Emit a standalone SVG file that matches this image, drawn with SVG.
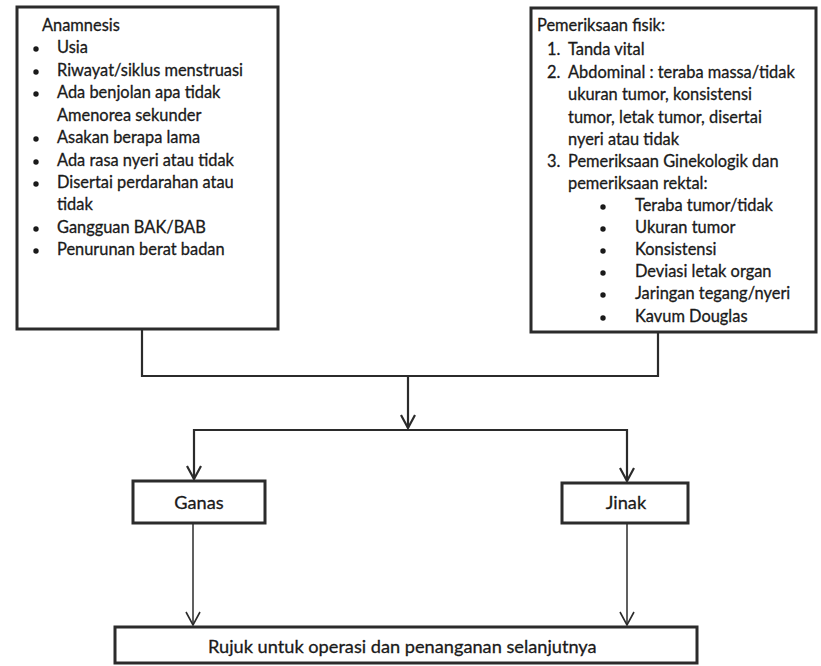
<svg xmlns="http://www.w3.org/2000/svg" width="821" height="666" viewBox="0 0 821 666">
  <style>
    .box { fill: #ffffff; stroke: #2b2b2b; stroke-width: 3; }
    .t { font-family: Lato, "Open Sans", sans-serif; font-size: 16.4px; fill: #1a1a1a; stroke: #1a1a1a; stroke-width: 0.3; }
    .big { font-size: 18.2px; }
    .c { text-anchor: middle; }
    .link { fill: none; stroke: #2b2b2b; stroke-width: 2.2; }
    .thin { fill: none; stroke: #2b2b2b; stroke-width: 1.5; }
    .dot { fill: #1a1a1a; }
  </style>
  <defs>
    <marker id="vee" viewBox="0 0 16 16" refX="15" refY="8" markerWidth="16" markerHeight="16" markerUnits="userSpaceOnUse" orient="auto-start-reverse">
      <path d="M2 1 L15 8 L2 15" fill="none" stroke="#2b2b2b" stroke-width="2.2"/>
    </marker>
    <marker id="vee-thin" viewBox="0 0 16 16" refX="15" refY="8" markerWidth="16" markerHeight="16" markerUnits="userSpaceOnUse" orient="auto">
      <path d="M2 1 L15 8 L2 15" fill="none" stroke="#2b2b2b" stroke-width="1.6"/>
    </marker>
  </defs>
  <rect width="821" height="666" fill="#ffffff"/>

  <!-- connectors -->
  <g id="connectors">
    <path class="link" d="M142 329 V376 H658 V332"/>
    <path class="link" d="M408 376 V428" marker-end="url(#vee)"/>
    <path class="link" d="M194 479 V430 H627 V481" marker-start="url(#vee)" marker-end="url(#vee)"/>
    <path class="thin" d="M193 523 V625" marker-end="url(#vee-thin)"/>
    <path class="thin" d="M627 523 V625" marker-end="url(#vee-thin)"/>
  </g>

  <!-- anamnesis -->
  <g id="anamnesis">
    <rect class="box" x="17" y="7" width="261" height="322"/>
    <text class="t" x="42" y="31">Anamnesis</text>
    <g class="dot">
      <circle cx="36" cy="49" r="2.7"/>
      <circle cx="36" cy="72" r="2.7"/>
      <circle cx="36" cy="94" r="2.7"/>
      <circle cx="36" cy="139" r="2.7"/>
      <circle cx="36" cy="162" r="2.7"/>
      <circle cx="36" cy="184" r="2.7"/>
      <circle cx="36" cy="229" r="2.7"/>
      <circle cx="36" cy="251" r="2.7"/>
    </g>
    <text class="t" x="57" y="53">Usia</text>
    <text class="t" x="57" y="76">Riwayat/siklus menstruasi</text>
    <text class="t" x="57" y="98">Ada benjolan apa tidak</text>
    <text class="t" x="57" y="121">Amenorea sekunder</text>
    <text class="t" x="57" y="143">Asakan berapa lama</text>
    <text class="t" x="57" y="166">Ada rasa nyeri atau tidak</text>
    <text class="t" x="57" y="188">Disertai perdarahan atau</text>
    <text class="t" x="57" y="210">tidak</text>
    <text class="t" x="57" y="233">Gangguan BAK/BAB</text>
    <text class="t" x="57" y="255">Penurunan berat badan</text>
  </g>

  <!-- physical examination -->
  <g id="pemeriksaan-fisik">
    <rect class="box" x="531" y="8" width="285" height="324"/>
    <text class="t" x="537" y="31">Pemeriksaan fisik:</text>
    <text class="t" x="547" y="55">1.</text>
    <text class="t" x="568" y="55">Tanda vital</text>
    <text class="t" x="547" y="78">2.</text>
    <text class="t" x="568" y="78">Abdominal : teraba massa/tidak</text>
    <text class="t" x="568" y="100">ukuran tumor, konsistensi</text>
    <text class="t" x="568" y="123">tumor, letak tumor, disertai</text>
    <text class="t" x="568" y="145">nyeri atau tidak</text>
    <text class="t" x="547" y="167">3.</text>
    <text class="t" x="568" y="167">Pemeriksaan Ginekologik dan</text>
    <text class="t" x="568" y="189">pemeriksaan rektal:</text>
    <g class="dot">
      <circle cx="603" cy="207" r="2.7"/>
      <circle cx="603" cy="229" r="2.7"/>
      <circle cx="603" cy="251" r="2.7"/>
      <circle cx="603" cy="273" r="2.7"/>
      <circle cx="603" cy="295" r="2.7"/>
      <circle cx="603" cy="318" r="2.7"/>
    </g>
    <text class="t" x="635" y="211">Teraba tumor/tidak</text>
    <text class="t" x="635" y="233">Ukuran tumor</text>
    <text class="t" x="635" y="255">Konsistensi</text>
    <text class="t" x="635" y="277">Deviasi letak organ</text>
    <text class="t" x="635" y="299">Jaringan tegang/nyeri</text>
    <text class="t" x="635" y="322">Kavum Douglas</text>
  </g>

  <g id="ganas">
    <rect class="box" x="133" y="481" width="132" height="42"/>
    <text class="t big c" x="199" y="509">Ganas</text>
  </g>

  <g id="jinak">
    <rect class="box" x="562" y="483" width="126" height="40"/>
    <text class="t big c" x="626" y="509">Jinak</text>
  </g>

  <g id="rujuk">
    <rect class="box" x="115" y="627" width="582" height="36"/>
    <text class="t big" x="208" y="653">Rujuk untuk operasi dan penanganan selanjutnya</text>
  </g>
</svg>
